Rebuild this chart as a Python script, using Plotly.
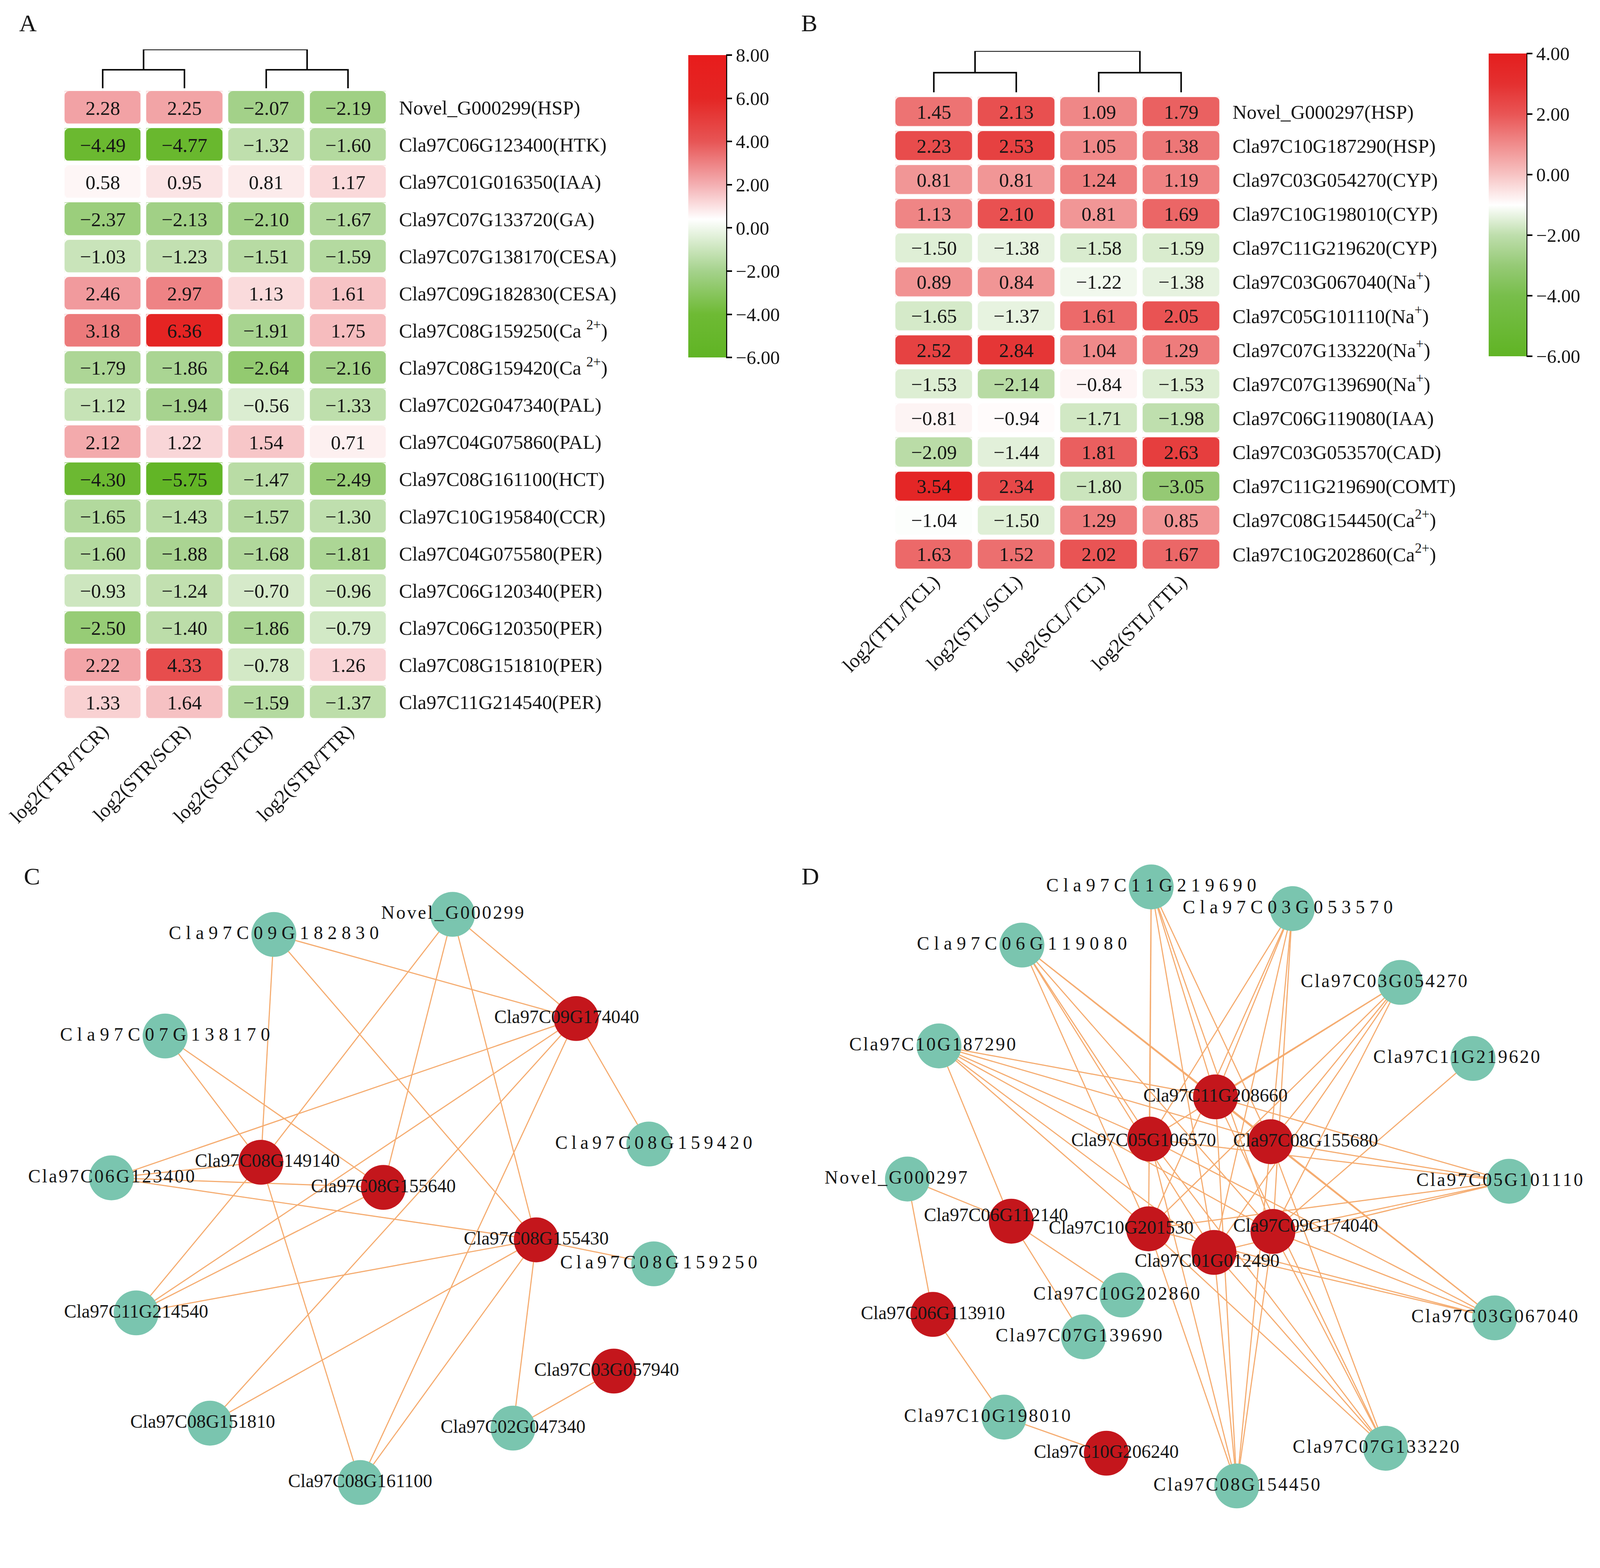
import plotly.graph_objects as go

# Reference frame (pixels of the original figure)
REF_W, REF_H = 4207, 4014
# The page is captured through a 4096-px-wide viewport with the default 8px body margin,
# so the figure is laid out in that frame and reference pixels are mapped onto it.
S = 4096 / REF_W
OFF = 8
FW = 4096 - OFF - 4
FH = round(REF_H * S) - OFF - 4
SERIF = "Liberation Serif, Times New Roman, serif"

# ---------------- heatmap data ----------------
cols_A = ["log2(TTR/TCR)", "log2(STR/SCR)", "log2(SCR/TCR)", "log2(STR/TTR)"]
genes_A = ["Novel_G000299(HSP)", "Cla97C06G123400(HTK)", "Cla97C01G016350(IAA)",
           "Cla97C07G133720(GA)", "Cla97C07G138170(CESA)", "Cla97C09G182830(CESA)",
           "Cla97C08G159250(Ca <sup>2+</sup>)", "Cla97C08G159420(Ca <sup>2+</sup>)",
           "Cla97C02G047340(PAL)", "Cla97C04G075860(PAL)", "Cla97C08G161100(HCT)",
           "Cla97C10G195840(CCR)", "Cla97C04G075580(PER)", "Cla97C06G120340(PER)",
           "Cla97C06G120350(PER)", "Cla97C08G151810(PER)", "Cla97C11G214540(PER)"]
vals_A = [[2.28, 2.25, -2.07, -2.19],
          [-4.49, -4.77, -1.32, -1.60],
          [0.58, 0.95, 0.81, 1.17],
          [-2.37, -2.13, -2.10, -1.67],
          [-1.03, -1.23, -1.51, -1.59],
          [2.46, 2.97, 1.13, 1.61],
          [3.18, 6.36, -1.91, 1.75],
          [-1.79, -1.86, -2.64, -2.16],
          [-1.12, -1.94, -0.56, -1.33],
          [2.12, 1.22, 1.54, 0.71],
          [-4.30, -5.75, -1.47, -2.49],
          [-1.65, -1.43, -1.57, -1.30],
          [-1.60, -1.88, -1.68, -1.81],
          [-0.93, -1.24, -0.70, -0.96],
          [-2.50, -1.40, -1.86, -0.79],
          [2.22, 4.33, -0.78, 1.26],
          [1.33, 1.64, -1.59, -1.37]]
cb_ticks_A = [8, 6, 4, 2, 0, -2, -4, -6]
dendro_heights_A = [1.0, 1.0, 2.1]   # (col1,col2), (col3,col4), root

cols_B = ["log2(TTL/TCL)", "log2(STL/SCL)", "log2(SCL/TCL)", "log2(STL/TTL)"]
genes_B = ["Novel_G000297(HSP)", "Cla97C10G187290(HSP)", "Cla97C03G054270(CYP)",
           "Cla97C10G198010(CYP)", "Cla97C11G219620(CYP)", "Cla97C03G067040(Na<sup>+</sup>)",
           "Cla97C05G101110(Na<sup>+</sup>)", "Cla97C07G133220(Na<sup>+</sup>)",
           "Cla97C07G139690(Na<sup>+</sup>)", "Cla97C06G119080(IAA)", "Cla97C03G053570(CAD)",
           "Cla97C11G219690(COMT)", "Cla97C08G154450(Ca<sup>2+</sup>)",
           "Cla97C10G202860(Ca<sup>2+</sup>)"]
vals_B = [[1.45, 2.13, 1.09, 1.79],
          [2.23, 2.53, 1.05, 1.38],
          [0.81, 0.81, 1.24, 1.19],
          [1.13, 2.10, 0.81, 1.69],
          [-1.50, -1.38, -1.58, -1.59],
          [0.89, 0.84, -1.22, -1.38],
          [-1.65, -1.37, 1.61, 2.05],
          [2.52, 2.84, 1.04, 1.29],
          [-1.53, -2.14, -0.84, -1.53],
          [-0.81, -0.94, -1.71, -1.98],
          [-2.09, -1.44, 1.81, 2.63],
          [3.54, 2.34, -1.80, -3.05],
          [-1.04, -1.50, 1.29, 0.85],
          [1.63, 1.52, 2.02, 1.67]]
cb_ticks_B = [4, 2, 0, -2, -4, -6]
dendro_heights_B = [1.0, 1.0, 2.1]

# ---------------- network data ----------------
genes_C = ["Cla97C09G182830", "Novel_G000299", "Cla97C07G138170", "Cla97C08G159420",
           "Cla97C06G123400", "Cla97C08G159250", "Cla97C11G214540", "Cla97C08G151810",
           "Cla97C02G047340", "Cla97C08G161100"]
tfs_C = ["Cla97C09G174040", "Cla97C08G149140", "Cla97C08G155640", "Cla97C08G155430",
         "Cla97C03G057940"]
edges_C = [("Cla97C09G182830", "Cla97C09G174040"), ("Cla97C09G182830", "Cla97C08G149140"),
           ("Cla97C09G182830", "Cla97C08G155430"), ("Novel_G000299", "Cla97C09G174040"),
           ("Novel_G000299", "Cla97C08G149140"), ("Novel_G000299", "Cla97C08G155640"),
           ("Novel_G000299", "Cla97C08G155430"), ("Cla97C07G138170", "Cla97C08G149140"),
           ("Cla97C07G138170", "Cla97C08G155640"), ("Cla97C08G159420", "Cla97C09G174040"),
           ("Cla97C06G123400", "Cla97C09G174040"), ("Cla97C11G214540", "Cla97C09G174040"),
           ("Cla97C08G151810", "Cla97C09G174040"), ("Cla97C08G161100", "Cla97C09G174040"),
           ("Cla97C06G123400", "Cla97C08G149140"), ("Cla97C06G123400", "Cla97C08G155640"),
           ("Cla97C06G123400", "Cla97C08G155430"), ("Cla97C11G214540", "Cla97C08G149140"),
           ("Cla97C11G214540", "Cla97C08G155640"), ("Cla97C11G214540", "Cla97C08G155430"),
           ("Cla97C08G161100", "Cla97C08G149140"), ("Cla97C08G159250", "Cla97C08G155430"),
           ("Cla97C02G047340", "Cla97C08G155430"), ("Cla97C08G161100", "Cla97C08G155430"),
           ("Cla97C08G151810", "Cla97C08G155430"), ("Cla97C02G047340", "Cla97C03G057940")]

genes_D = ["Cla97C11G219690", "Cla97C03G053570", "Cla97C06G119080", "Cla97C03G054270",
           "Cla97C10G187290", "Cla97C11G219620", "Novel_G000297", "Cla97C05G101110",
           "Cla97C10G202860", "Cla97C03G067040", "Cla97C07G139690", "Cla97C10G198010",
           "Cla97C07G133220", "Cla97C08G154450"]
tfs_D = ["Cla97C11G208660", "Cla97C05G106570", "Cla97C08G155680", "Cla97C06G112140",
         "Cla97C10G201530", "Cla97C09G174040", "Cla97C01G012490", "Cla97C06G113910",
         "Cla97C10G206240"]
hubs_D = ["Cla97C11G208660", "Cla97C05G106570", "Cla97C08G155680",
          "Cla97C10G201530", "Cla97C09G174040", "Cla97C01G012490"]
hub_partners_D = ["Cla97C11G219690", "Cla97C03G053570", "Cla97C06G119080", "Cla97C03G054270",
                  "Cla97C10G187290", "Cla97C05G101110", "Cla97C03G067040",
                  "Cla97C07G133220", "Cla97C08G154450"]
extra_edges_D = [("Cla97C11G219620", "Cla97C09G174040"), ("Cla97C10G187290", "Cla97C06G112140"),
                 ("Novel_G000297", "Cla97C06G112140"), ("Cla97C10G202860", "Cla97C06G112140"),
                 ("Cla97C07G139690", "Cla97C06G112140"), ("Novel_G000297", "Cla97C06G113910"),
                 ("Cla97C10G198010", "Cla97C06G113910"), ("Cla97C10G198010", "Cla97C10G206240")]
edges_D = [(g, h) for g in hub_partners_D for h in hubs_D] + extra_edges_D

# ---------------- network layout (reference pixel frame) ----------------
pos_C = {"Cla97C09G182830": (720, 2457), "Novel_G000299": (1190, 2404),
         "Cla97C09G174040": (1515, 2678), "Cla97C07G138170": (434, 2724),
         "Cla97C08G159420": (1706, 3008), "Cla97C06G123400": (293, 3097),
         "Cla97C08G149140": (686, 3056), "Cla97C08G155640": (1008, 3122),
         "Cla97C08G155430": (1410, 3260), "Cla97C08G159250": (1719, 3323),
         "Cla97C11G214540": (358, 3452), "Cla97C03G057940": (1614, 3605),
         "Cla97C08G151810": (552, 3742), "Cla97C02G047340": (1349, 3755),
         "Cla97C08G161100": (947, 3898)}
pos_D = {"Cla97C11G219690": (3027, 2332), "Cla97C03G053570": (3398, 2389),
         "Cla97C06G119080": (2687, 2485), "Cla97C03G054270": (3682, 2583),
         "Cla97C10G187290": (2469, 2750), "Cla97C11G219620": (3873, 2783),
         "Cla97C11G208660": (3196, 2884), "Cla97C05G106570": (3023, 2995),
         "Cla97C08G155680": (3341, 3002), "Novel_G000297": (2386, 3100),
         "Cla97C05G101110": (3968, 3106), "Cla97C06G112140": (2659, 3211),
         "Cla97C10G201530": (3020, 3231), "Cla97C09G174040": (3347, 3238),
         "Cla97C01G012490": (3192, 3293), "Cla97C10G202860": (2950, 3405),
         "Cla97C03G067040": (3930, 3465), "Cla97C06G113910": (2453, 3456),
         "Cla97C07G139690": (2849, 3515), "Cla97C10G198010": (2640, 3726),
         "Cla97C07G133220": (3643, 3808), "Cla97C10G206240": (2909, 3821),
         "Cla97C08G154450": (3252, 3907)}
label_shift = {"C:Cla97C09G174040": (-25, 0), "C:Cla97C08G149140": (17, 0),
               "C:Cla97C03G057940": (-19, 0), "C:Cla97C08G151810": (-19, 0),
               "C:Cla97C08G159250": (13, 0), "C:Cla97C08G159420": (13, 0),
               "D:Cla97C03G054270": (-43, 0), "D:Cla97C11G219620": (-43, 0),
               "D:Cla97C08G155680": (92, 0), "D:Cla97C10G201530": (-72, 0),
               "D:Cla97C09G174040": (86, -12), "D:Cla97C06G112140": (-40, -13),
               "D:Cla97C01G012490": (-18, 26), "D:Cla97C10G198010": (-44, 0),
               "D:Novel_G000297": (-30, 0), "D:Cla97C05G106570": (-16, 6),
               "D:Cla97C05G101110": (-25, 0), "D:Cla97C07G133220": (-25, 0),
               "D:Cla97C10G187290": (-17, 0), "D:Cla97C03G053570": (-12, 0),
               "D:Cla97C10G202860": (-14, 0), "D:Cla97C07G139690": (-12, 0)}
# letter spacing of the exported labels: wide / mid / narrow
label_gap = {"C:Cla97C09G182830": "wide", "C:Cla97C07G138170": "wide",
             "C:Cla97C08G159420": "mid", "C:Cla97C08G159250": "mid",
             "C:Novel_G000299": "narrow", "C:Cla97C06G123400": "narrow",
             "D:Cla97C11G219690": "wide", "D:Cla97C03G053570": "wide",
             "D:Cla97C06G119080": "wide"}
for g in ["Cla97C03G054270", "Cla97C10G187290", "Cla97C11G219620", "Cla97C05G101110",
          "Cla97C03G067040", "Cla97C07G133220", "Cla97C08G154450", "Cla97C10G198010",
          "Cla97C10G202860", "Cla97C07G139690", "Novel_G000297"]:
    label_gap["D:" + g] = "narrow"
GAPCHAR = {"wide": " ", "mid": "\u2009", "narrow": "\u200a"}

# ---------------- styles ----------------
TEAL = "rgb(122,197,175)"
RED = "rgb(196,22,28)"
EDGE = "rgb(245,172,112)"
TXT = "#161616"
CELL_XGAP, CELL_RADIUS = 15, 13   # reference px

pts_A = [(-6, (96, 180, 36)), (-4, (110, 186, 52)), (-2, (165, 210, 140)),
         (0.4, (255, 255, 255)), (2, (244, 175, 178)), (4, (231, 85, 85)),
         (6, (228, 38, 36)), (8, (232, 28, 28))]
pts_B = [(-6, (96, 180, 36)), (-4, (120, 190, 75)), (-3, (150, 202, 118)),
         (-2, (190, 222, 172)), (-1, (255, 255, 255)), (0, (247, 195, 195)),
         (1, (240, 140, 140)), (2, (233, 85, 85)), (3, (228, 48, 48)), (4, (228, 30, 30))]


def cscale(points):
    lo, hi = points[0][0], points[-1][0]
    return [[(v - lo) / (hi - lo), "rgb(%d,%d,%d)" % c] for v, c in points]


def fmt(v):
    return ("%.2f" % v).replace("-", "\u2212")


def px(x):
    return (x * S - OFF) / FW


def py(y):
    return 1 - (y * S - OFF) / FH


def sz(v):
    return v * S


fig = go.Figure()

# ---------------- heatmaps ----------------
def add_heatmap(vals, genes, cols, pts, ticks, xa, ya, ref_x, ref_y, cb_left, cb_top, cb_len, ygap):
    n, m = len(cols), len(genes)
    dom_x = [px(ref_x[0]), px(ref_x[1])]
    dom_y = [py(ref_y[1]), py(ref_y[0])]
    fig.add_trace(go.Heatmap(
        z=vals, x=list(range(n)), y=list(range(m)),
        text=[[fmt(v) for v in row] for row in vals], texttemplate="%{text}",
        textfont=dict(family=SERIF, size=sz(52), color=TXT),
        colorscale=cscale(pts), zmin=pts[0][0], zmax=pts[-1][0],
        xgap=sz(CELL_XGAP), ygap=sz(ygap), hoverinfo="skip", xaxis=xa, yaxis=ya,
        colorbar=dict(x=px(cb_left), xanchor="left", xpad=0, y=py(cb_top), yanchor="top",
                      ypad=0, len=sz(cb_len), lenmode="pixels", thickness=sz(100),
                      thicknessmode="pixels", outlinewidth=0,
                      tickvals=ticks, ticktext=[fmt(t) for t in ticks],
                      ticks="outside", ticklen=sz(16), tickwidth=sz(4), tickcolor="black",
                      tickfont=dict(family=SERIF, size=sz(50), color=TXT))))
    fig.add_shape(type="line", xref="paper", yref="paper", x0=px(cb_left + 100),
                  x1=px(cb_left + 100), y0=py(cb_top), y1=py(cb_top + cb_len),
                  line=dict(color="black", width=sz(4)))
    # rounded cell corners: white masks over the square corners of every cell
    ux = (ref_x[1] - ref_x[0]) / n
    uy = (ref_y[1] - ref_y[0]) / m
    hw, hh = 0.5 - CELL_XGAP / 2 / ux, 0.5 - ygap / 2 / uy
    rx, ry = CELL_RADIUS / ux, CELL_RADIUS / uy
    parts = []
    for i in range(n):
        for j in range(m):
            for sx in (-1, 1):
                for sy in (-1, 1):
                    cx, cy = i + sx * hw, j + sy * hh
                    parts.append("M%.4f,%.4f L%.4f,%.4f Q%.4f,%.4f %.4f,%.4f Z" % (
                        cx, cy, cx - sx * rx, cy, cx, cy, cx, cy - sy * ry))
    fig.add_shape(type="path", xref=xa, yref=ya, path=" ".join(parts),
                  fillcolor="white", line=dict(width=0), layer="above")
    fig.update_layout(**{
        ("xaxis" if xa == "x" else "xaxis" + xa[1:]): dict(
            domain=dom_x, range=[-0.5, n - 0.5], tickvals=list(range(n)), ticktext=cols,
            tickangle=-45, tickfont=dict(family=SERIF, size=sz(52), color=TXT),
            automargin=False, ticklabelstandoff=-14,
            showgrid=False, zeroline=False, showline=False, ticks="", anchor=ya),
        ("yaxis" if ya == "y" else "yaxis" + ya[1:]): dict(
            domain=dom_y, range=[m - 0.5, -0.5], tickvals=list(range(m)),
            ticktext=genes, side="right", tickfont=dict(family=SERIF, size=sz(52), color=TXT),
            showgrid=False, zeroline=False, showline=False, ticks="", anchor=xa,
            automargin=False, ticklabelstandoff=25)})
    return dom_x


def add_dendro(heights, xa, ya, dom_x, dom_y):
    h1, h2, h3 = heights
    xs = [0, 0, 1, 1, None, 2, 2, 3, 3, None, 0.5, 0.5, 2.5, 2.5]
    ys = [0, h1, h1, 0, None, 0, h2, h2, 0, None, h1, h3, h3, h2]
    fig.add_trace(go.Scatter(x=xs, y=ys, mode="lines", line=dict(color="black", width=sz(4)),
                             hoverinfo="skip", showlegend=False, xaxis=xa, yaxis=ya,
                             cliponaxis=False))
    fig.update_layout(**{
        "xaxis" + xa[1:]: dict(domain=dom_x, range=[-0.5, 3.5], visible=False, anchor=ya,
                               automargin=False),
        "yaxis" + ya[1:]: dict(domain=dom_y, range=[0, max(heights)], visible=False, anchor=xa,
                               automargin=False)})


domA_x = add_heatmap(vals_A, genes_A, cols_A, pts_A, cb_ticks_A, "x", "y",
                     (162.5, 1022.5), (234, 1895), 1810, 145, 795, 12)
add_dendro(dendro_heights_A, "x2", "y2", domA_x, [py(232), py(130)])
domB_x = add_heatmap(vals_B, genes_B, cols_B, pts_B, cb_ticks_B, "x3", "y3",
                     (2347, 3214), (249, 1502), 3914, 141, 796, 13)
add_dendro(dendro_heights_B, "x4", "y4", domB_x, [py(243), py(134)])

# ---------------- networks ----------------
def spaced(name, key):
    g = label_gap.get(key)
    return GAPCHAR[g].join(name) if g else name


def add_network(tag, genes, tfs, edges, pos, xa, ya, xr):
    ex, ey = [], []
    for a, b in edges:
        ex += [pos[a][0], pos[b][0], None]
        ey += [pos[a][1], pos[b][1], None]
    fig.add_trace(go.Scatter(x=ex, y=ey, mode="lines", line=dict(color=EDGE, width=sz(3)),
                             hoverinfo="skip", showlegend=False, xaxis=xa, yaxis=ya))
    for group, col in ((genes, TEAL), (tfs, RED)):
        fig.add_trace(go.Scatter(x=[pos[n][0] for n in group], y=[pos[n][1] for n in group],
                                 mode="markers",
                                 marker=dict(size=sz(118), color=col, line_width=0),
                                 hoverinfo="skip", showlegend=False, xaxis=xa, yaxis=ya,
                                 cliponaxis=False))
    names = genes + tfs
    lx = [pos[n][0] + label_shift.get(tag + ":" + n, (0, 0))[0] for n in names]
    ly = [pos[n][1] + label_shift.get(tag + ":" + n, (0, 0))[1] for n in names]
    fig.add_trace(go.Scatter(x=lx, y=ly, mode="text",
                             text=[spaced(n, tag + ":" + n) for n in names],
                             textposition="middle center",
                             textfont=dict(family=SERIF, size=sz(49), color=TXT),
                             hoverinfo="skip", showlegend=False, xaxis=xa, yaxis=ya,
                             cliponaxis=False))
    fig.update_layout(**{
        "xaxis" + xa[1:]: dict(domain=[px(xr[0]), px(xr[1])], range=xr, visible=False,
                               anchor=ya, automargin=False),
        "yaxis" + ya[1:]: dict(domain=[py(4000), py(2150)], range=[4000, 2150], visible=False,
                               anchor=xa, automargin=False)})


add_network("C", genes_C, tfs_C, edges_C, pos_C, "x5", "y5", [20, 2100])
add_network("D", genes_D, tfs_D, edges_D, pos_D, "x6", "y6", [2110, 4200])

# ---------------- panel letters ----------------
for letter, (lx, ly) in {"A": (73, 60), "B": (2128, 60), "C": (84, 2303), "D": (2131, 2303)}.items():
    fig.add_annotation(text=letter, x=px(lx), y=py(ly), xref="paper", yref="paper",
                       xanchor="center", yanchor="middle", showarrow=False,
                       font=dict(family=SERIF, size=sz(64), color=TXT))

fig.update_layout(template="none", width=FW, height=FH, margin=dict(l=0, r=0, t=0, b=0, pad=0),
                  paper_bgcolor="white", plot_bgcolor="white", showlegend=False)
fig.write_html("out.html")
